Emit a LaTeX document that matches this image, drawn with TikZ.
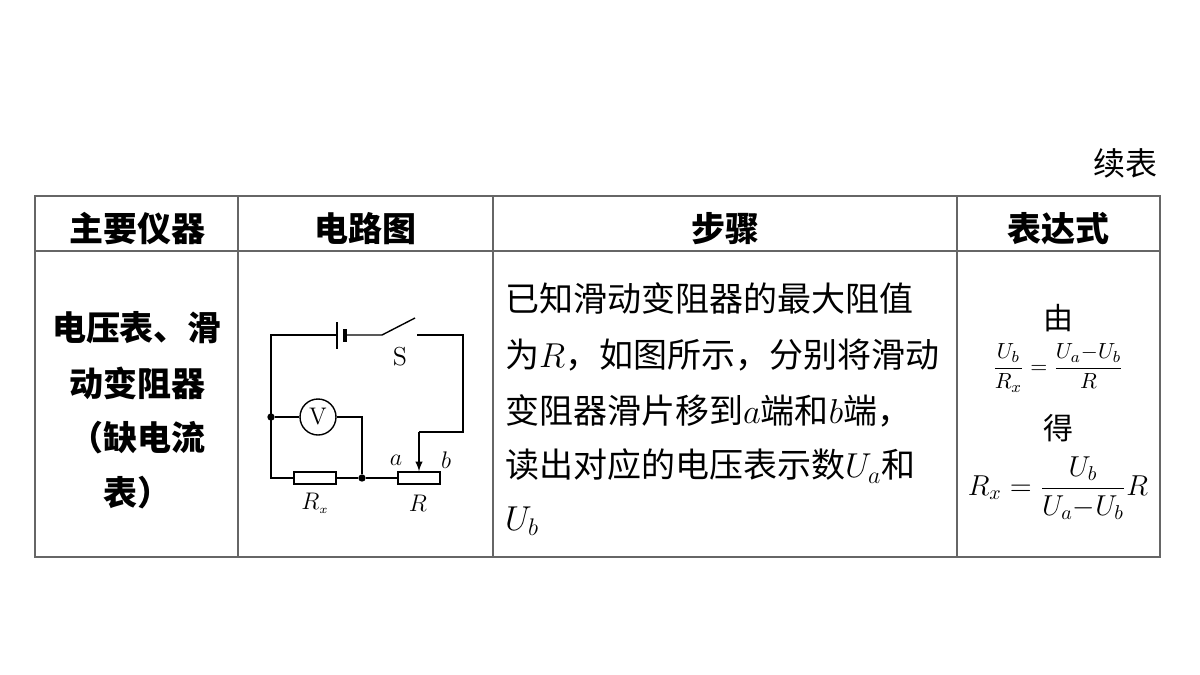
\documentclass[tikz,border=0pt]{standalone}
\usepackage{fontspec}
\newfontfamily\cjk{Noto Sans CJK SC}
\begin{document}
\begin{tikzpicture}[x=0.5pt,y=-0.5pt,
  hd/.style={font=\cjk\bfseries\fontsize{17}{20}\selectfont},
  st/.style={anchor=west,font=\cjk\fontsize{17}{20}\selectfont},
  wire/.style={line width=0.7pt},
  res/.style={draw,line width=0.7pt,fill=white,minimum width=21pt,minimum height=6pt,inner sep=0pt},
  dot/.style={circle,fill,inner sep=1.3pt}]
\useasboundingbox (0,0) rectangle (1200,675);
\draw[line width=0.6pt,gray!80!black] (35,196) rectangle (1160,557)
  (35,251)--(1160,251) (238,196)--(238,557) (493,196)--(493,557) (957,196)--(957,557);
\node[font=\cjk\fontsize{16}{18}\selectfont] (xb) at (1125,163) {续表};
\node[hd] (h1) at (137,229) {主要仪器};
\node[hd] (h2) at (365,229) {电路图};
\node[hd] (h3) at (725,229) {步骤};
\node[hd] (h4) at (1058,229) {表达式};
\node[hd] (l1) at (137,328) {电压表、滑};
\node[hd] (l2) at (137,383) {动变阻器};
\node[hd] (l3) at (137,438) {（缺电流};
\node[hd] (l4) at (137,493) {表）};
% circuit
\coordinate (tl) at (271,335); \coordinate (tr) at (463,335);
\coordinate (jl) at (271,417); \coordinate (bl) at (271,478);
\node[dot] (j1) at (271,417) {};
\node[dot] (j2) at (362,478) {};
\node[draw,circle,line width=0.7pt,minimum size=18pt,inner sep=0pt,font=\fontsize{12}{12}\selectfont] (V) at (318,417) {V};
\node[res] (Rx) at (315,478) {};
\node[res] (R) at (419,478) {};
\draw[wire] (337,335)--(tl)--(bl)--(Rx.west) (Rx.east)--(j2)--(R.west);
\draw[wire] (j1)--(V.west) (V.east)-|(j2);
\draw[wire] (337,322)--(337,349);
\draw[line width=2pt] (345,329)--(345,342);
\draw[wire] (345,335)--(382,335)--(415,318);
\draw[wire] (417,335)--(tr)--(463,432)--(419,432);
\draw[wire,-latex] (419,432)--(R.north);
\node[font=\fontsize{13}{13}\selectfont] (S) at (400,357) {S};
\node (la) at (396,460) {\fontsize{13}{13}\selectfont$a$};
\node (lb) at (446,460) {\fontsize{13}{13}\selectfont$b$};
\node (lrx) at (315,503) {\fontsize{13}{13}\selectfont$R_{\scriptscriptstyle x}$};
\node (lr) at (418,503) {\fontsize{13}{13}\selectfont$R$};
% steps
\node[st] (s1) at (498,298) {已知滑动变阻器的最大阻值};
\node[st] (s2) at (498,355) {为$R$，如图所示，分别将滑动};
\node[st] (s3) at (498,411) {变阻器滑片移到$a$端和$b$端，};
\node[st] (s4) at (498,466) {读出对应的电压表示数$U_a$和};
\node[st] (s5) at (498,521) {$U_b$};
% formula
\node[font=\cjk\fontsize{15}{16}\selectfont] (you) at (1058,318) {由};
\node (f1) at (1058,368) {\fontsize{11}{13}\selectfont$\displaystyle\frac{U_b}{R_x}=\frac{U_a{-}U_b}{R}$};
\node[font=\cjk\fontsize{15}{16}\selectfont] (de) at (1058,428) {得};
\node (f2) at (1058,488) {\fontsize{14}{16}\selectfont$\displaystyle R_x=\frac{U_b}{U_a{-}U_b}R$};
\end{tikzpicture}
\end{document}
